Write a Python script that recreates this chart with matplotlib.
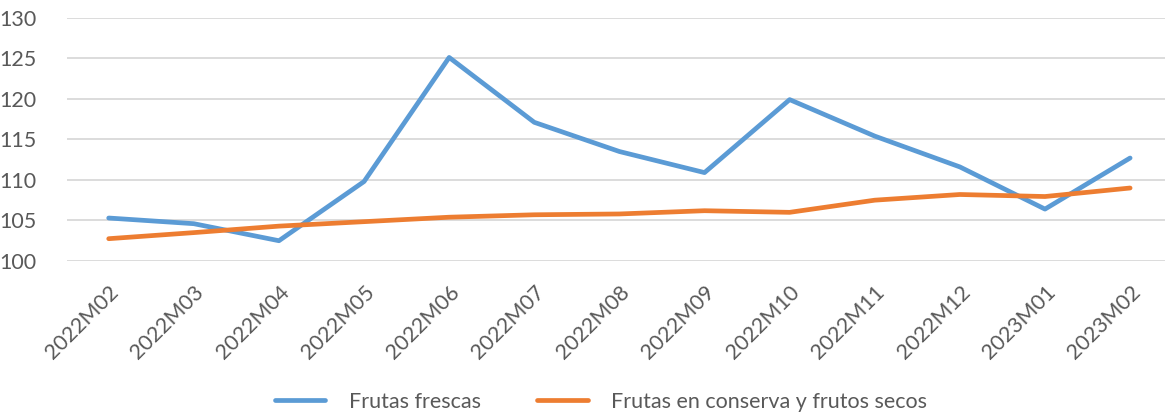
import matplotlib
matplotlib.use("Agg")
import matplotlib.pyplot as plt

categories = ["2022M02", "2022M03", "2022M04", "2022M05", "2022M06", "2022M07",
              "2022M08", "2022M09", "2022M10", "2022M11", "2022M12", "2023M01", "2023M02"]
frutas_frescas = [105.3, 104.6, 102.5, 109.8, 125.1, 117.1, 113.5, 110.9, 119.9, 115.4, 111.6, 106.4, 112.7]
frutas_conserva = [102.75, 103.5, 104.3, 104.85, 105.4, 105.7, 105.8, 106.2, 106.0, 107.5, 108.2, 107.95, 109.0]
series_names = ["Frutas frescas", "Frutas en conserva y frutos secos"]
y_ticks = [100, 105, 110, 115, 120, 125, 130]

plt.rcParams['font.family'] = ['Lato', 'DejaVu Sans']
text_color = '#595959'
fs = 15.5

fig = plt.figure(figsize=(11.65, 4.16), dpi=100)
ax = fig.add_axes([67/1165, 1-261/416, 1-67/1165, (261-17.7)/416])

x = list(range(len(categories)))
ax.plot(x, frutas_frescas, color='#5B9BD5', lw=3.4, solid_joinstyle='round', solid_capstyle='round', label=series_names[0], zorder=3)
ax.plot(x, frutas_conserva, color='#ED7D31', lw=3.4, solid_joinstyle='round', solid_capstyle='round', label=series_names[1], zorder=3)

ax.set_xlim(-0.49, 12.41)
ax.set_ylim(100, 130)
ax.set_yticks(y_ticks)
ax.set_yticklabels([str(v) for v in y_ticks], fontsize=fs, color=text_color)
ax.yaxis.grid(True, color='#D9D9D9', lw=1.3)
ax.set_axisbelow(True)
ax.set_xticks(x)
ax.set_xticklabels(categories, rotation=45, ha='right', va='top', rotation_mode='anchor',
                   fontsize=fs, color=text_color)
ax.tick_params(axis='both', length=0)
ax.tick_params(axis='y', pad=22)
ax.tick_params(axis='x', pad=15)
for s in ax.spines.values():
    s.set_visible(False)

leg = fig.legend(loc='center', bbox_to_anchor=(0.516, 1-402/416), ncol=2, frameon=False,
                 fontsize=fs, handlelength=2.35, handletextpad=1.1, columnspacing=2.6)
for t in leg.get_texts():
    t.set_color(text_color)

fig.savefig("out.png", dpi=100)
